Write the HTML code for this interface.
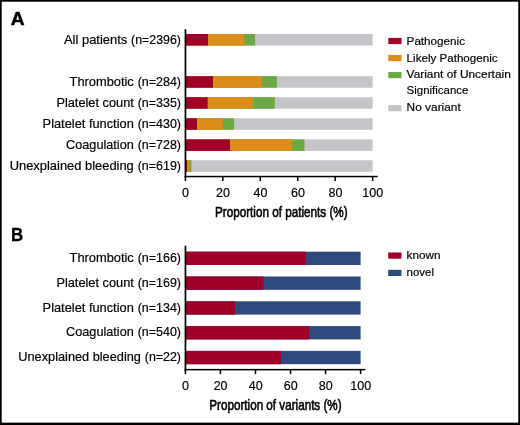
<!DOCTYPE html>
<html><head><meta charset="utf-8"><title>Figure</title>
<style>
html,body{margin:0;padding:0;background:#fff;}
svg{display:block;font-family:"Liberation Sans",sans-serif;fill:#000;stroke:#000;stroke-width:0.18px;}
rect{stroke:none;}
</style></head><body>
<svg width="520" height="425" viewBox="0 0 520 425">
<rect width="520" height="425" fill="#fff"/>
<text x="10.7" y="24.5" font-size="18.2" text-anchor="start" font-weight="bold" textLength="13.8" lengthAdjust="spacingAndGlyphs" fill="#000" stroke="#000" stroke-width="0.5">A</text>
<text x="11.0" y="241.3" font-size="18.0" text-anchor="start" font-weight="bold" textLength="12.2" lengthAdjust="spacingAndGlyphs" fill="#000" stroke="#000" stroke-width="0.3">B</text>
<rect x="185.40" y="34.00" width="187.20" height="11.50" fill="#C6C4C8"/>
<rect x="185.40" y="34.00" width="69.70" height="11.50" fill="#6AA944"/>
<rect x="185.40" y="34.00" width="58.90" height="11.50" fill="#DC8C18"/>
<rect x="185.40" y="34.00" width="22.60" height="11.50" fill="#A00028"/>
<text x="181.00" y="43.75" font-size="11.9" text-anchor="end" textLength="49.9" lengthAdjust="spacingAndGlyphs">(n=2396)</text>
<text x="127.20" y="43.75" font-size="11.9" text-anchor="end" textLength="63.2" lengthAdjust="spacingAndGlyphs">All patients</text>
<rect x="185.40" y="76.20" width="187.20" height="11.50" fill="#C6C4C8"/>
<rect x="185.40" y="76.20" width="91.50" height="11.50" fill="#6AA944"/>
<rect x="185.40" y="76.20" width="76.50" height="11.50" fill="#DC8C18"/>
<rect x="185.40" y="76.20" width="27.60" height="11.50" fill="#A00028"/>
<text x="181.00" y="85.95" font-size="11.9" text-anchor="end" textLength="43.3" lengthAdjust="spacingAndGlyphs">(n=284)</text>
<text x="133.80" y="85.95" font-size="11.9" text-anchor="end" textLength="64.2" lengthAdjust="spacingAndGlyphs">Thrombotic</text>
<rect x="185.40" y="97.20" width="187.20" height="11.50" fill="#C6C4C8"/>
<rect x="185.40" y="97.20" width="89.40" height="11.50" fill="#6AA944"/>
<rect x="185.40" y="97.20" width="67.60" height="11.50" fill="#DC8C18"/>
<rect x="185.40" y="97.20" width="22.20" height="11.50" fill="#A00028"/>
<text x="181.00" y="106.95" font-size="11.9" text-anchor="end" textLength="43.3" lengthAdjust="spacingAndGlyphs">(n=335)</text>
<text x="133.80" y="106.95" font-size="11.9" text-anchor="end" textLength="77.4" lengthAdjust="spacingAndGlyphs">Platelet count</text>
<rect x="185.40" y="118.30" width="187.20" height="11.50" fill="#C6C4C8"/>
<rect x="185.40" y="118.30" width="48.70" height="11.50" fill="#6AA944"/>
<rect x="185.40" y="118.30" width="37.50" height="11.50" fill="#DC8C18"/>
<rect x="185.40" y="118.30" width="11.60" height="11.50" fill="#A00028"/>
<text x="181.00" y="128.05" font-size="11.9" text-anchor="end" textLength="43.3" lengthAdjust="spacingAndGlyphs">(n=430)</text>
<text x="133.80" y="128.05" font-size="11.9" text-anchor="end" textLength="91.2" lengthAdjust="spacingAndGlyphs">Platelet function</text>
<rect x="185.40" y="139.40" width="187.20" height="11.50" fill="#C6C4C8"/>
<rect x="185.40" y="139.40" width="119.10" height="11.50" fill="#6AA944"/>
<rect x="185.40" y="139.40" width="106.80" height="11.50" fill="#DC8C18"/>
<rect x="185.40" y="139.40" width="44.60" height="11.50" fill="#A00028"/>
<text x="181.00" y="149.15" font-size="11.9" text-anchor="end" textLength="43.3" lengthAdjust="spacingAndGlyphs">(n=728)</text>
<text x="133.80" y="149.15" font-size="11.9" text-anchor="end" textLength="67.7" lengthAdjust="spacingAndGlyphs">Coagulation</text>
<rect x="185.40" y="160.30" width="187.20" height="11.50" fill="#C6C4C8"/>
<rect x="185.40" y="160.30" width="6.00" height="11.50" fill="#6AA944"/>
<rect x="185.40" y="160.30" width="4.50" height="11.50" fill="#DC8C18"/>
<rect x="185.40" y="160.30" width="1.60" height="11.50" fill="#A00028"/>
<text x="181.00" y="170.05" font-size="11.9" text-anchor="end" textLength="43.3" lengthAdjust="spacingAndGlyphs">(n=619)</text>
<text x="133.80" y="170.05" font-size="11.9" text-anchor="end" textLength="124.1" lengthAdjust="spacingAndGlyphs">Unexplained bleeding</text>
<rect x="184.60" y="29.10" width="1.70" height="148.20" fill="#000"/>
<rect x="184.70" y="175.80" width="193.00" height="1.50" fill="#000"/>
<rect x="184.65" y="176.00" width="1.50" height="5.00" fill="#000"/>
<text x="185.6" y="196.8" font-size="13.3" text-anchor="middle" textLength="7.0" lengthAdjust="spacingAndGlyphs">0</text>
<rect x="222.09" y="176.00" width="1.50" height="5.00" fill="#000"/>
<text x="223.0" y="196.8" font-size="13.3" text-anchor="middle" textLength="13.9" lengthAdjust="spacingAndGlyphs">20</text>
<rect x="259.53" y="176.00" width="1.50" height="5.00" fill="#000"/>
<text x="260.5" y="196.8" font-size="13.3" text-anchor="middle" textLength="13.9" lengthAdjust="spacingAndGlyphs">40</text>
<rect x="296.97" y="176.00" width="1.50" height="5.00" fill="#000"/>
<text x="297.9" y="196.8" font-size="13.3" text-anchor="middle" textLength="13.9" lengthAdjust="spacingAndGlyphs">60</text>
<rect x="334.41" y="176.00" width="1.50" height="5.00" fill="#000"/>
<text x="335.4" y="196.8" font-size="13.3" text-anchor="middle" textLength="13.9" lengthAdjust="spacingAndGlyphs">80</text>
<rect x="371.85" y="176.00" width="1.50" height="5.00" fill="#000"/>
<text x="372.8" y="196.8" font-size="13.3" text-anchor="middle" textLength="20.9" lengthAdjust="spacingAndGlyphs">100</text>
<text x="215.0" y="217.0" font-size="15.0" text-anchor="start" textLength="132.6" lengthAdjust="spacingAndGlyphs" fill="#000" stroke="#000" stroke-width="0.6">Proportion of patients (%)</text>
<rect x="388.30" y="37.90" width="13.20" height="6.20" fill="#A00028"/>
<text x="406.6" y="44.6" font-size="11.4" text-anchor="start" textLength="58.4" lengthAdjust="spacingAndGlyphs">Pathogenic</text>
<rect x="388.30" y="55.00" width="13.20" height="6.20" fill="#DC8C18"/>
<text x="406.6" y="61.5" font-size="11.4" text-anchor="start" textLength="91.0" lengthAdjust="spacingAndGlyphs">Likely Pathogenic</text>
<rect x="388.30" y="72.00" width="13.20" height="6.20" fill="#6AA944"/>
<text x="406.6" y="78.4" font-size="11.4" text-anchor="start" textLength="104.2" lengthAdjust="spacingAndGlyphs">Variant of Uncertain</text>
<rect x="388.30" y="105.10" width="13.20" height="6.20" fill="#C6C4C8"/>
<text x="406.6" y="111.4" font-size="11.4" text-anchor="start" textLength="54.2" lengthAdjust="spacingAndGlyphs">No variant</text>
<text x="406.6" y="94.1" font-size="11.4" text-anchor="start" textLength="61.8" lengthAdjust="spacingAndGlyphs">Significance</text>
<rect x="185.40" y="251.70" width="175.20" height="13.30" fill="#2E4A7C"/>
<rect x="185.40" y="251.70" width="120.30" height="13.30" fill="#A00028"/>
<text x="181.00" y="262.00" font-size="11.9" text-anchor="end" textLength="43.3" lengthAdjust="spacingAndGlyphs">(n=166)</text>
<text x="133.80" y="262.00" font-size="11.9" text-anchor="end" textLength="64.2" lengthAdjust="spacingAndGlyphs">Thrombotic</text>
<rect x="185.40" y="276.50" width="175.20" height="13.30" fill="#2E4A7C"/>
<rect x="185.40" y="276.50" width="78.00" height="13.30" fill="#A00028"/>
<text x="181.00" y="286.80" font-size="11.9" text-anchor="end" textLength="43.3" lengthAdjust="spacingAndGlyphs">(n=169)</text>
<text x="133.80" y="286.80" font-size="11.9" text-anchor="end" textLength="77.4" lengthAdjust="spacingAndGlyphs">Platelet count</text>
<rect x="185.40" y="301.30" width="175.20" height="13.30" fill="#2E4A7C"/>
<rect x="185.40" y="301.30" width="49.85" height="13.30" fill="#A00028"/>
<text x="181.00" y="311.60" font-size="11.9" text-anchor="end" textLength="43.3" lengthAdjust="spacingAndGlyphs">(n=134)</text>
<text x="133.80" y="311.60" font-size="11.9" text-anchor="end" textLength="91.2" lengthAdjust="spacingAndGlyphs">Platelet function</text>
<rect x="185.40" y="326.10" width="175.20" height="13.30" fill="#2E4A7C"/>
<rect x="185.40" y="326.10" width="123.80" height="13.30" fill="#A00028"/>
<text x="181.00" y="336.40" font-size="11.9" text-anchor="end" textLength="43.3" lengthAdjust="spacingAndGlyphs">(n=540)</text>
<text x="133.80" y="336.40" font-size="11.9" text-anchor="end" textLength="67.7" lengthAdjust="spacingAndGlyphs">Coagulation</text>
<rect x="185.40" y="350.90" width="175.20" height="13.30" fill="#2E4A7C"/>
<rect x="185.40" y="350.90" width="95.60" height="13.30" fill="#A00028"/>
<text x="181.00" y="361.20" font-size="11.9" text-anchor="end" textLength="36.2" lengthAdjust="spacingAndGlyphs">(n=22)</text>
<text x="140.90" y="361.20" font-size="11.9" text-anchor="end" textLength="122.6" lengthAdjust="spacingAndGlyphs">Unexplained bleeding</text>
<rect x="184.60" y="245.80" width="1.70" height="124.60" fill="#000"/>
<rect x="184.70" y="368.90" width="180.70" height="1.50" fill="#000"/>
<rect x="184.65" y="369.00" width="1.50" height="5.10" fill="#000"/>
<text x="185.6" y="390.0" font-size="13.3" text-anchor="middle" textLength="7.0" lengthAdjust="spacingAndGlyphs">0</text>
<rect x="219.69" y="369.00" width="1.50" height="5.10" fill="#000"/>
<text x="220.6" y="390.0" font-size="13.3" text-anchor="middle" textLength="13.9" lengthAdjust="spacingAndGlyphs">20</text>
<rect x="254.73" y="369.00" width="1.50" height="5.10" fill="#000"/>
<text x="255.7" y="390.0" font-size="13.3" text-anchor="middle" textLength="13.9" lengthAdjust="spacingAndGlyphs">40</text>
<rect x="289.77" y="369.00" width="1.50" height="5.10" fill="#000"/>
<text x="290.7" y="390.0" font-size="13.3" text-anchor="middle" textLength="13.9" lengthAdjust="spacingAndGlyphs">60</text>
<rect x="324.81" y="369.00" width="1.50" height="5.10" fill="#000"/>
<text x="325.8" y="390.0" font-size="13.3" text-anchor="middle" textLength="13.9" lengthAdjust="spacingAndGlyphs">80</text>
<rect x="359.85" y="369.00" width="1.50" height="5.10" fill="#000"/>
<text x="360.8" y="390.0" font-size="13.3" text-anchor="middle" textLength="20.9" lengthAdjust="spacingAndGlyphs">100</text>
<text x="209.3" y="410.1" font-size="15.0" text-anchor="start" textLength="132.3" lengthAdjust="spacingAndGlyphs" fill="#000" stroke="#000" stroke-width="0.6">Proportion of variants (%)</text>
<rect x="388.20" y="252.50" width="13.30" height="6.20" fill="#A00028"/>
<text x="406.6" y="258.6" font-size="11.4" text-anchor="start" textLength="34.0" lengthAdjust="spacingAndGlyphs">known</text>
<rect x="388.20" y="269.80" width="13.30" height="6.20" fill="#2E4A7C"/>
<text x="406.6" y="275.8" font-size="11.4" text-anchor="start" textLength="27.4" lengthAdjust="spacingAndGlyphs">novel</text>
<rect x="0" y="0" width="520" height="1.7" fill="#000"/><rect x="0" y="0" width="1.7" height="425" fill="#000"/><rect x="518.25" y="0" width="1.75" height="425" fill="#000"/><rect x="0" y="422.65" width="520" height="2.35" fill="#000"/>
</svg>
</body></html>
